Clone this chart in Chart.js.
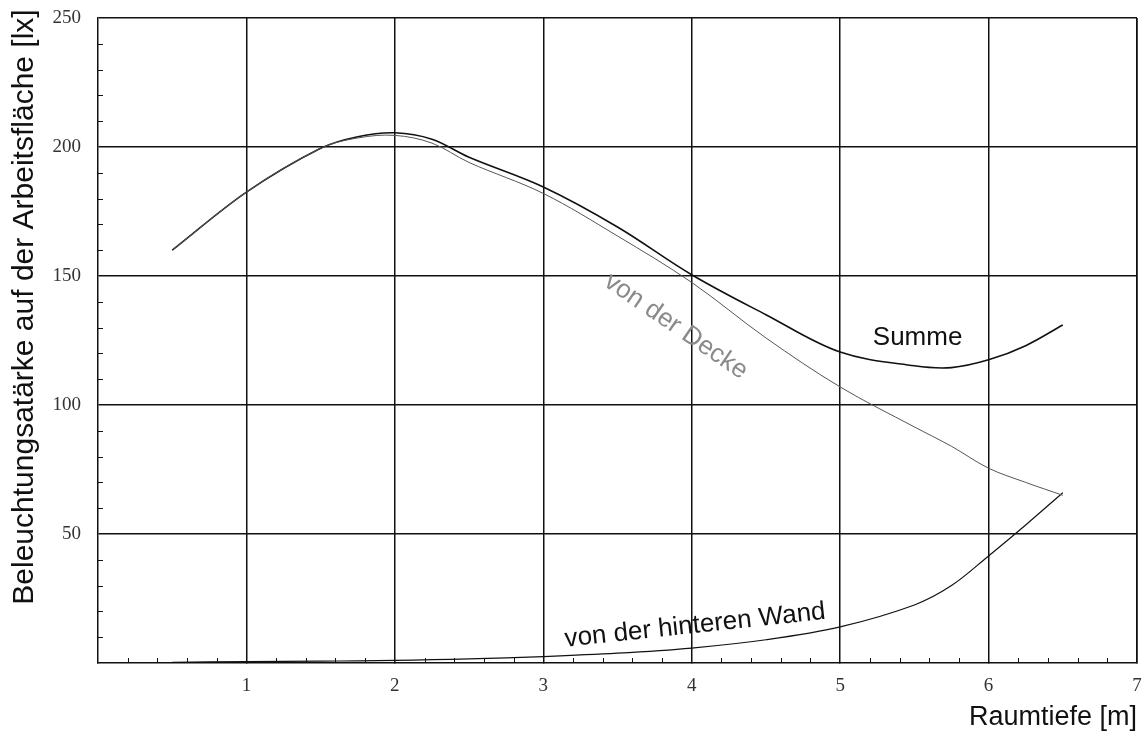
<!DOCTYPE html>
<html>
<head>
<meta charset="utf-8">
<script src="https://cdn.jsdelivr.net/npm/chart.js@4"></script>
<style>
  html, body { margin: 0; padding: 0; background: #fff; }
  #wrap { width: 1144px; height: 741px; }
</style>
</head>
<body>
<div id="wrap"><canvas id="c" width="1144" height="741"></canvas></div>
<script>
// Raumtiefe [m]
const depth = [0.5, 1, 1.5, 1.75, 2, 2.25, 2.5, 3, 3.5, 4, 4.5, 5, 5.5, 5.75, 6, 6.25, 6.5];
// Beleuchtungsstärke [lx]
const summe = [160, 182.5, 199.5, 204, 205.5, 203, 196, 184.5, 169, 150.5, 135, 120.5, 115.2, 114.5, 117.5, 123, 131];
const decke = [160, 182.5, 199.5, 203.5, 204.5, 201.5, 194, 182, 165.5, 147.5, 126, 107, 91.5, 84, 75.5, 70, 65];
const wand = [0.3, 0.5, 0.7, 0.85, 1, 1.3, 1.6, 2.5, 3.8, 5.8, 9, 14, 22.5, 30, 41.5, 53.5, 66];

const xTicks = [1, 2, 3, 4, 5, 6, 7];
const yTicks = [50, 100, 150, 200, 250];

const pts = arr => arr.map((v, i) => ({ x: depth[i], y: v }));

const lineDs = (label, data, color, width) => ({
    label,
    data: pts(data),
    borderColor: color,
    borderWidth: width,
    pointRadius: 0,
    fill: false,
    tension: 0.35,
});

const textFont = '27px "Liberation Sans", Arial, sans-serif';

// minor ticks pointing into the plot, right border, axis titles and curve labels
const decor = {
    id: 'decor',
    afterDatasetsDraw(chart) {
        const { ctx, chartArea: a, scales: { x, y } } = chart;
        ctx.save();
        ctx.strokeStyle = '#111';
        ctx.lineWidth = 1;
        ctx.beginPath();
        for (let v = 10; v < 250; v += 10) {
            if (v % 50 === 0) continue;
            const py = Math.round(y.getPixelForValue(v)) + 0.5;
            ctx.moveTo(a.left, py);
            ctx.lineTo(a.left + 5, py);
        }
        for (let i = 1; i < 35; i++) {
            if (i % 5 === 0) continue;
            const px = Math.round(x.getPixelForValue(i * 0.2)) + 0.5;
            ctx.moveTo(px, a.bottom);
            ctx.lineTo(px, a.bottom - 5);
        }
        ctx.stroke();

        ctx.lineWidth = 1.2;
        ctx.beginPath();
        ctx.moveTo(a.right, a.top);
        ctx.lineTo(a.right, a.bottom);
        ctx.stroke();

        ctx.fillStyle = '#111';
        ctx.font = textFont;
        ctx.textAlign = 'center';
        ctx.textBaseline = 'middle';
        ctx.save();
        ctx.translate(25, 307);
        ctx.rotate(-Math.PI / 2);
        ctx.font = '30px "Liberation Sans", Arial, sans-serif';
        ctx.fillText('Beleuchtungsatärke auf der Arbeitsfläche [lx]', 0, 0);
        ctx.restore();

        ctx.textAlign = 'right';
        ctx.fillText('Raumtiefe [m]', 1137, 718);

        ctx.textAlign = 'left';
        ctx.textBaseline = 'alphabetic';
        ctx.font = '26px "Liberation Sans", Arial, sans-serif';
        ctx.fillText('Summe', x.getPixelForValue(5.22), y.getPixelForValue(123.3));

        ctx.save();
        ctx.translate(x.getPixelForValue(3.4), y.getPixelForValue(146.5));
        ctx.rotate(0.6);
        ctx.fillStyle = '#8a8a8a';
        ctx.fillText('von der Decke', 0, 0);
        ctx.restore();

        ctx.save();
        ctx.translate(x.getPixelForValue(3.15), y.getPixelForValue(6.3));
        ctx.rotate(-0.107);
        ctx.fillText('von der hinteren Wand', 0, 0);
        ctx.restore();
        ctx.restore();
    },
};

new Chart(document.getElementById('c'), {
    type: 'line',
    data: {
        datasets: [
            lineDs('von der Decke', decke, '#555', 1),
            lineDs('von der hinteren Wand', wand, '#111', 1.2),
            lineDs('Summe', summe, '#111', 1.6),
        ],
    },
    options: {
        responsive: false,
        animation: false,
        events: [],
        layout: { padding: { top: 18, right: 7, left: 0, bottom: 0 } },
        plugins: { legend: { display: false }, tooltip: { enabled: false } },
        scales: {
            x: {
                type: 'linear',
                min: 0,
                max: 7,
                afterFit: s => { s.height = 78; s.paddingLeft = 0; s.paddingRight = 0; },
                afterBuildTicks: s => { s.ticks = xTicks.map(v => ({ value: v })); },
                grid: { color: '#111', lineWidth: 1.5, tickLength: 0 },
                border: { color: '#111', width: 1.5 },
                ticks: {
                    padding: 12,
                    color: '#333',
                    font: { family: '"Liberation Serif", serif', size: 19 },
                    maxRotation: 0,
                },
            },
            y: {
                min: 0,
                max: 250,
                afterFit: s => { s.width = 98; s.paddingTop = 0; s.paddingBottom = 0; },
                afterBuildTicks: s => { s.ticks = yTicks.map(v => ({ value: v })); },
                grid: { color: '#111', lineWidth: 1.5, tickLength: 0 },
                border: { color: '#111', width: 1.5 },
                ticks: {
                    padding: 17,
                    color: '#333',
                    font: { family: '"Liberation Serif", serif', size: 19 },
                },
            },
        },
    },
    plugins: [decor],
});
</script>
</body>
</html>
